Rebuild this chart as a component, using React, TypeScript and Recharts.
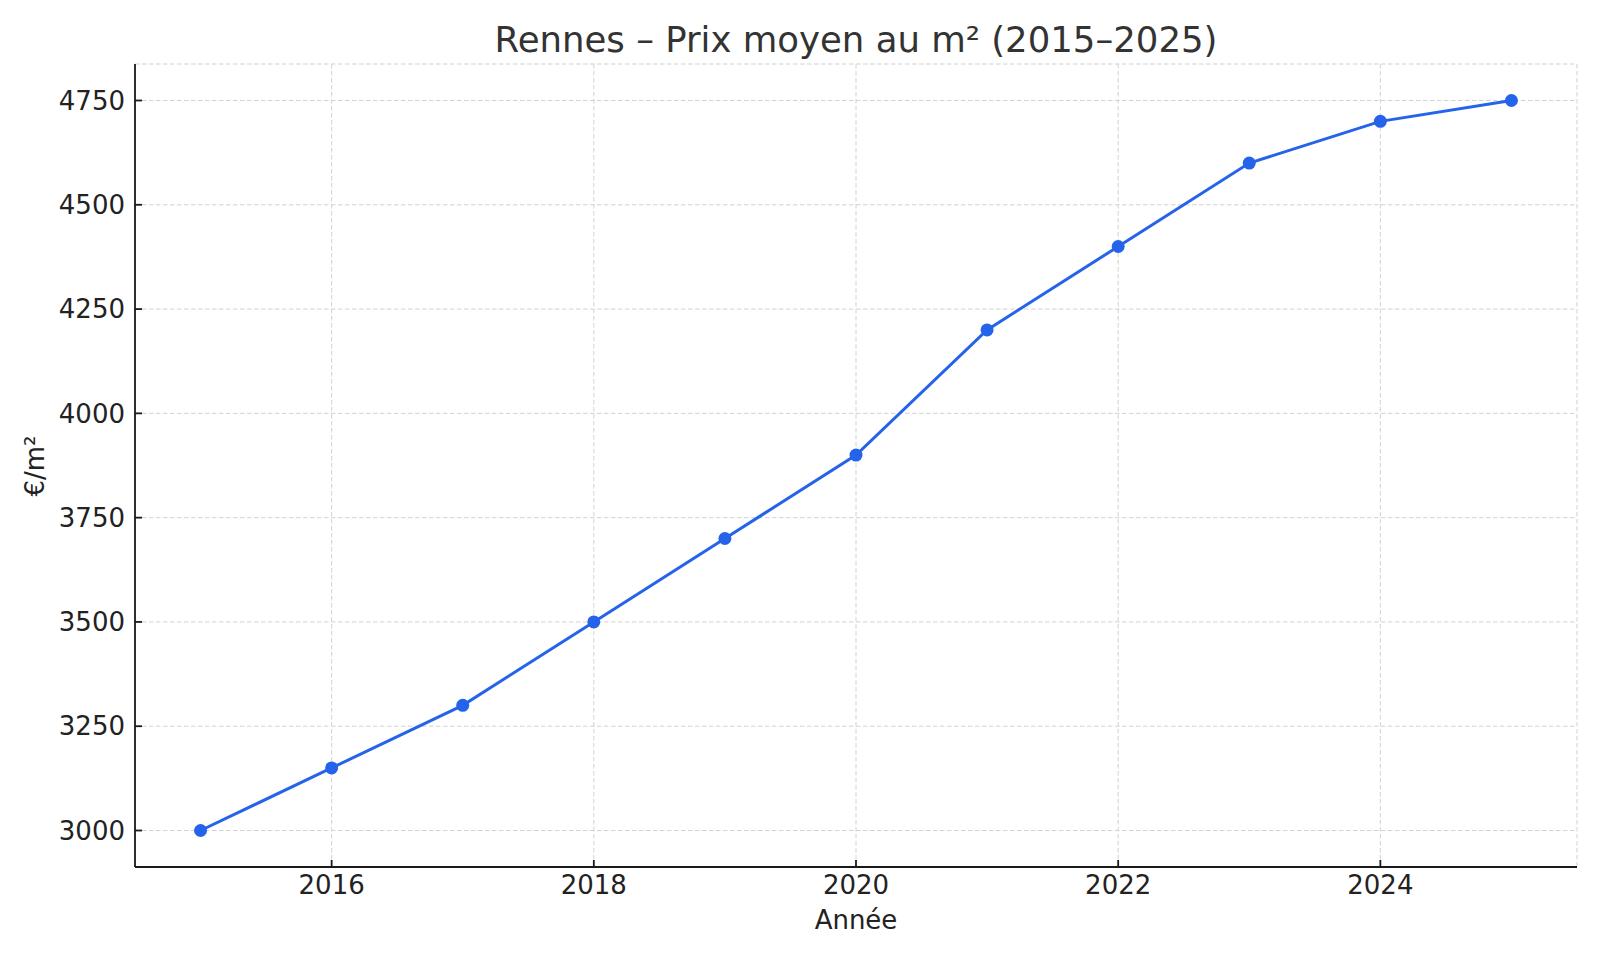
import React from "react";
import {
  LineChart,
  Line,
  XAxis,
  YAxis,
  CartesianGrid,
} from "recharts";

const years = [2015, 2016, 2017, 2018, 2019, 2020, 2021, 2022, 2023, 2024, 2025];
const prices = [3000, 3150, 3300, 3500, 3700, 3900, 4200, 4400, 4600, 4700, 4750];
const xTicks = [2016, 2018, 2020, 2022, 2024];
const yTicks = [3000, 3250, 3500, 3750, 4000, 4250, 4500, 4750];

const data = years.map((year, i) => ({ year, price: prices[i] }));

const FONT = "'DejaVu Sans', sans-serif";
const LINE_COLOR = "#2563eb";
const AXIS_COLOR = "#1a1a1a";

export default function App() {
  return (
    <div
      style={{
        position: "fixed",
        left: 0,
        top: 0,
        width: 1600,
        height: 960,
        background: "#fff",
        fontFamily: FONT,
      }}
    >
      <LineChart
        width={1600}
        height={960}
        data={data}
        margin={{ top: 64, right: 23, bottom: 33, left: 35 }}
      >
        {/* dashed grid on both axes */}
        <CartesianGrid
          stroke="#d2d2d2"
          strokeDasharray="4.5 2.5"
          strokeWidth={1}
        />
        <XAxis
          dataKey="year"
          type="number"
          domain={[2014.5, 2025.5]}
          ticks={xTicks}
          allowDataOverflow
          height={60}
          tickSize={-7}
          tickMargin={16}
          axisLine={{ stroke: AXIS_COLOR, strokeWidth: 1.8 }}
          tickLine={{ stroke: AXIS_COLOR, strokeWidth: 1.8 }}
          tick={{ fill: "#222", fontSize: 26, fontFamily: FONT }}
        />
        <YAxis
          type="number"
          domain={[2912.5, 4837.5]}
          ticks={yTicks}
          allowDataOverflow
          width={100}
          tickSize={-7}
          tickMargin={17}
          axisLine={{ stroke: AXIS_COLOR, strokeWidth: 1.8 }}
          tickLine={{ stroke: AXIS_COLOR, strokeWidth: 1.8 }}
          tick={{ fill: "#222", fontSize: 26, fontFamily: FONT }}
        />
        <Line
          dataKey="price"
          type="linear"
          stroke={LINE_COLOR}
          strokeWidth={3}
          dot={{ r: 6.5, fill: LINE_COLOR, stroke: "none" }}
          activeDot={false}
          isAnimationActive={false}
        />
      </LineChart>

      {/* Title and axis labels */}
      <svg
        width={1600}
        height={960}
        style={{ position: "absolute", left: 0, top: 0, pointerEvents: "none" }}
      >
        <text
          x={856}
          y={52}
          textAnchor="middle"
          fontSize={35.5}
          fontFamily={FONT}
          fill="#333"
        >
          Rennes – Prix moyen au m² (2015–2025)
        </text>
        <text
          x={856}
          y={929}
          textAnchor="middle"
          fontSize={26}
          fontFamily={FONT}
          fill="#222"
        >
          Année
        </text>
        <text
          transform="translate(43.5,466) rotate(-90)"
          textAnchor="middle"
          fontSize={26}
          fontFamily={FONT}
          fill="#222"
        >
          €/m²
        </text>
      </svg>
    </div>
  );
}
